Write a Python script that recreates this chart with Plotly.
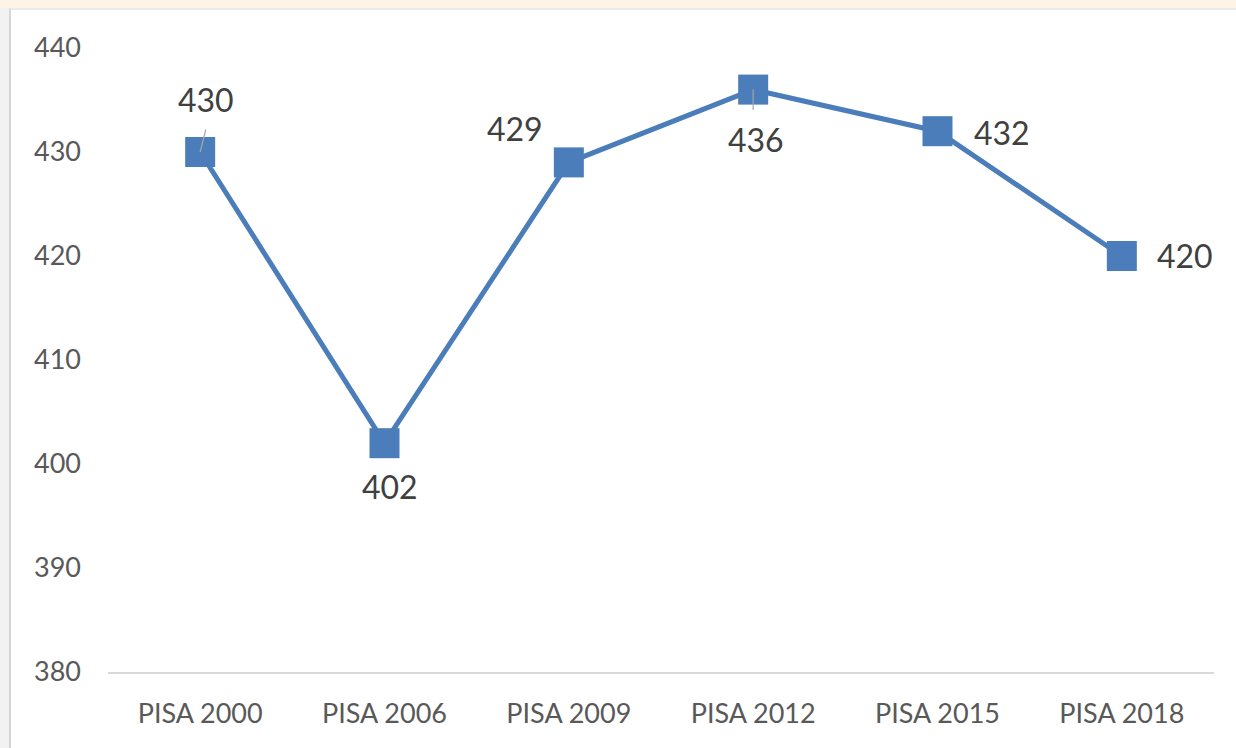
import plotly.graph_objects as go

categories = ["PISA 2000", "PISA 2006", "PISA 2009", "PISA 2012", "PISA 2015", "PISA 2018"]
scores = [430, 402, 429, 436, 432, 420]
y_ticks = [380, 390, 400, 410, 420, 430, 440]

# label offsets (pixels) relative to each point
label_shift = [(6, 53), (5, -43), (-54, 34), (3, -50), (64, -1), (63, 1)]

BLUE = "#4A7DBA"
FONT = "Lato, Open Sans, sans-serif"

fig = go.Figure()
fig.add_trace(go.Scatter(
    x=categories, y=scores, mode="lines+markers",
    line=dict(color=BLUE, width=5),
    marker=dict(symbol="square", size=30, color=BLUE),
    hoverinfo="skip", showlegend=False, cliponaxis=False,
))

for cat, val, (dx, dy) in zip(categories, scores, label_shift):
    fig.add_annotation(x=cat, y=val, text=str(val), showarrow=False,
                       xshift=dx, yshift=dy,
                       font=dict(family=FONT, size=32, color="#404040"))

# small leader lines for 430 and 436
fig.add_annotation(x=categories[0], y=scores[0], ax=6, ay=-24, axref="pixel", ayref="pixel",
                   showarrow=True, arrowhead=0, arrowwidth=1.2, arrowcolor="#A6A6A6", text="",
                   standoff=0, startstandoff=0)
fig.add_annotation(x=categories[3], y=scores[3], ax=0, ay=22, axref="pixel", ayref="pixel",
                   showarrow=True, arrowhead=0, arrowwidth=1.2, arrowcolor="#A6A6A6", text="",
                   standoff=0, startstandoff=0)

W, H = 1236, 748
L, R, T, B = 108, 22, 48, 76
pw, ph = W - L - R, H - T - B

fig.update_layout(
    width=W, height=H,
    margin=dict(l=L, r=R, t=T, b=B),
    paper_bgcolor="white", plot_bgcolor="white",
    font=dict(family=FONT, color="#595959"),
    xaxis=dict(
        type="category", range=[-0.5, 5.5], showgrid=False, zeroline=False,
        showline=True, linecolor="#D9D9D9", linewidth=1.5, ticks="",
        tickfont=dict(size=27, color="#595959"), ticklabelstandoff=17,
        fixedrange=True,
    ),
    yaxis=dict(
        range=[380, 440], tickvals=y_ticks, showgrid=False, zeroline=False,
        showline=False, ticks="", tickfont=dict(size=27, color="#595959"),
        ticklabelstandoff=26, fixedrange=True,
    ),
    shapes=[
        dict(type="rect", xref="paper", yref="paper", x0=-L/pw, x1=1+R/pw,
             y0=1+(T-8)/ph, y1=1+T/ph, fillcolor="#FDF3E6", line_width=0, layer="below"),
        dict(type="rect", xref="paper", yref="paper", x0=-L/pw, x1=-(L-9)/pw,
             y0=-B/ph, y1=1+(T-8)/ph, fillcolor="#F2F2F2", line_width=0, layer="below"),
        dict(type="line", xref="paper", yref="paper", x0=-(L-10)/pw, x1=-(L-10)/pw,
             y0=-B/ph, y1=1+(T-8)/ph, line=dict(color="#D6D6D6", width=2), layer="below"),
        dict(type="line", xref="paper", yref="paper", x0=-(L-9)/pw, x1=1+R/pw,
             y0=1+(T-9)/ph, y1=1+(T-9)/ph, line=dict(color="#E3E3E3", width=1.5), layer="below"),
    ],
)

fig.write_html("out.html", config={"displayModeBar": False},
               post_script="document.body.style.margin='0';document.body.style.overflow='hidden';")
